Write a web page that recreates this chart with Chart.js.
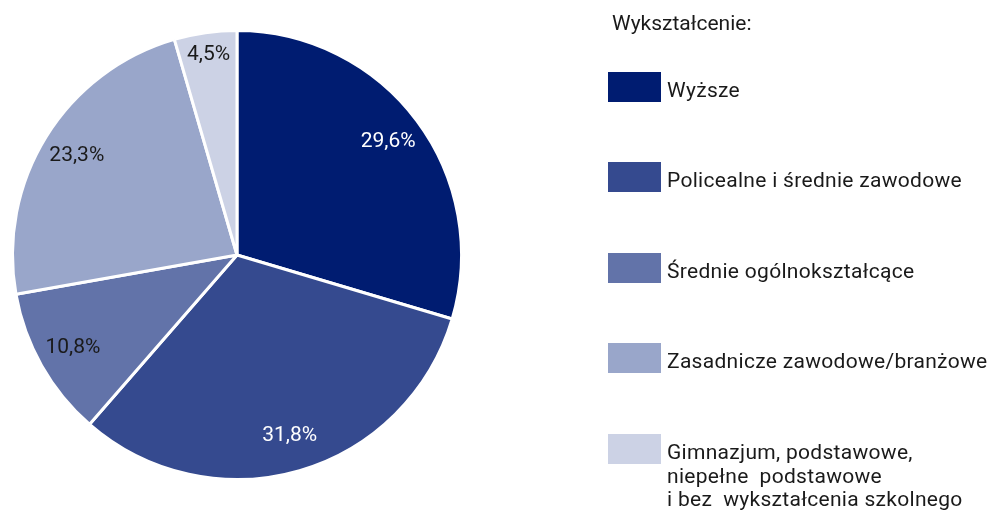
<!DOCTYPE html>
<html>
<head>
<meta charset="utf-8">
<script src="https://cdn.jsdelivr.net/npm/chart.js@4.4.1/dist/chart.umd.min.js"></script>
<style>
    body { margin: 0; background: #fff; font-family: Roboto, "Noto Sans", sans-serif; color: #1a1a1a; }
    #wrap { position: relative; width: 987px; height: 516px; overflow: hidden; }
    #pie { position: absolute; left: 0; top: 0; }
    #legendTitle { position: absolute; left: 612px; top: 10px; font-size: 21px; line-height: 26px; }
    .legendItem { position: absolute; left: 608px; }
    .legendBox { position: absolute; left: 0; top: 0; width: 53px; height: 30px; }
    .legendText { position: absolute; left: 59px; top: 7px; font-size: 21px; line-height: 23.5px; letter-spacing: 0.3px; white-space: pre; }
</style>
</head>
<body>
<div id="wrap">
    <canvas id="pie" width="987" height="516"></canvas>
    <div id="legendTitle"></div>
    <div id="legend"></div>
</div>
<script>
    // dane
    let legendTitle = 'Wykształcenie:';
    let categories = [
        'Wyższe',
        'Policealne i średnie zawodowe',
        'Średnie ogólnokształcące',
        'Zasadnicze zawodowe/branżowe',
        'Gimnazjum, podstawowe,\nniepełne  podstawowe\ni bez  wykształcenia szkolnego'
    ];
    let shares = [29.6, 31.8, 10.8, 23.3, 4.5];
    let colors = ['#001c71', '#354a8f', '#6273a9', '#99a6ca', '#ccd2e5'];
    let labelColors = ['#ffffff', '#ffffff', '#1a1a1a', '#1a1a1a', '#1a1a1a'];

    let legendTop = [72, 162, 253, 343, 434];

    function BuildLegend() {
        document.getElementById('legendTitle').textContent = legendTitle;
        let legend = document.getElementById('legend');
        categories.forEach(function (name, i) {
            let item = document.createElement('div');
            item.className = 'legendItem';
            item.style.top = legendTop[i] + 'px';
            item.innerHTML = `<div class="legendBox" style="background:${colors[i]}"></div>
                              <div class="legendText"></div>`;
            item.querySelector('.legendText').textContent = name;
            legend.appendChild(item);
        });
    }

    // etykiety procentowe wewnatrz wycinkow
    let sliceLabels = {
        id: 'sliceLabels',
        afterDatasetsDraw: function (chart) {
            let ctx = chart.ctx;
            let meta = chart.getDatasetMeta(0);
            ctx.save();
            ctx.font = '21px Roboto, "Noto Sans", sans-serif';
            ctx.textAlign = 'center';
            ctx.textBaseline = 'middle';
            meta.data.forEach(function (arc, i) {
                let p = arc.getProps(['x', 'y', 'startAngle', 'endAngle', 'outerRadius'], true);
                let mid = (p.startAngle + p.endAngle) / 2;
                let r = p.outerRadius * (shares[i] < 6 ? 0.9 : 0.84);
                ctx.fillStyle = labelColors[i];
                ctx.fillText(shares[i].toFixed(1).replace('.', ',') + '%', p.x + Math.cos(mid) * r, p.y + Math.sin(mid) * r);
            });
            ctx.restore();
        }
    };

    function EducationPieChart() {
        let ctx = document.getElementById('pie').getContext('2d');
        new Chart(ctx, {
            type: 'pie',
            data: {
                labels: categories,
                datasets: [{
                    data: shares,
                    backgroundColor: colors,
                    borderColor: '#ffffff',
                    borderWidth: 3
                }]
            },
            options: {
                responsive: false,
                animation: false,
                layout: { padding: { left: 11, top: 29, right: 524, bottom: 35 } },
                plugins: {
                    legend: { display: false },
                    tooltip: { enabled: false }
                }
            },
            plugins: [sliceLabels]
        });
    }

    window.onload = function () {
        BuildLegend();
        EducationPieChart();
    }
</script>
</body>
</html>
